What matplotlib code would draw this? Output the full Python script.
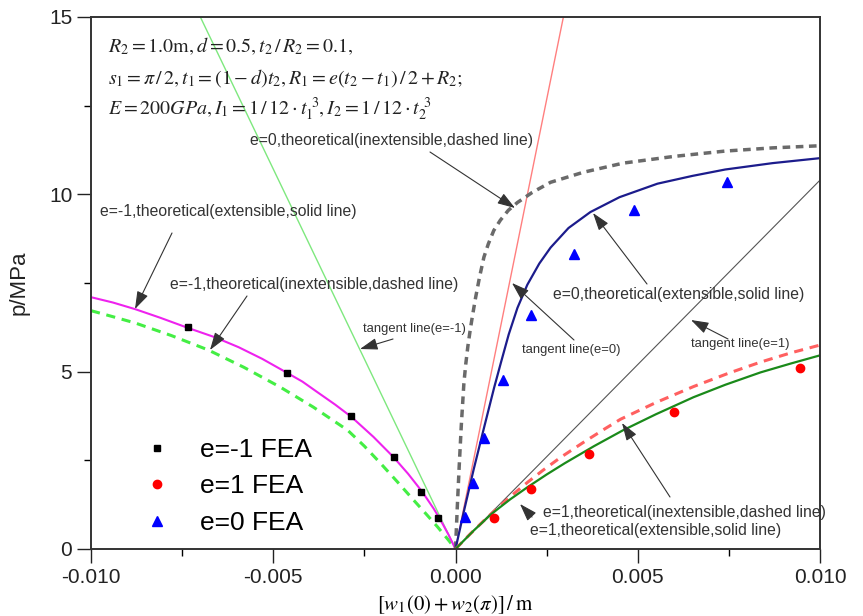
import matplotlib
matplotlib.use("Agg")
import matplotlib.pyplot as plt
from matplotlib.ticker import MultipleLocator, FormatStrFormatter

plt.rcParams['font.family'] = ['Liberation Sans', 'DejaVu Sans']
plt.rcParams['mathtext.fontset'] = 'stix'

# ---------------- data ----------------
# FEA points
x_fea_m1 = [-0.00733, -0.00461, -0.00288, -0.00170, -0.00096, -0.00047]
p_fea_m1 = [6.25, 4.96, 3.74, 2.60, 1.62, 0.87]

x_fea_p1 = [0.00105, 0.00208, 0.00366, 0.00600, 0.00945]
p_fea_p1 = [0.88, 1.68, 2.67, 3.85, 5.10]

x_fea_0 = [0.00025, 0.00047, 0.00079, 0.00129, 0.00206, 0.00324, 0.00491, 0.00746]
p_fea_0 = [0.90, 1.86, 3.14, 4.76, 6.59, 8.31, 9.55, 10.34]

# theoretical curves
x_m1_ext = [-0.0100, -0.0094, -0.00878, -0.0081, -0.00733, -0.0066, -0.00595, -0.0053,
            -0.00466, -0.0042, -0.0038, -0.0033, -0.00285, -0.00225, -0.0017, -0.0013,
            -0.00091, -0.0006, -0.00044, -0.0002, 0.0]
p_m1_ext = [7.10, 6.95, 6.76, 6.52, 6.23, 5.97, 5.69, 5.36,
            4.99, 4.72, 4.43, 4.07, 3.72, 3.16, 2.59, 2.12,
            1.61, 1.14, 0.87, 0.42, 0.0]

x_m1_inext = [-0.0100, -0.0094, -0.00878, -0.0078, -0.00678, -0.0058, -0.0048, -0.0039,
              -0.00296, -0.0025, -0.00206, -0.0016, -0.00115, -0.0008, -0.00049, -0.0002, 0.0]
p_m1_inext = [6.72, 6.55, 6.37, 6.02, 5.61, 5.12, 4.56, 4.00,
              3.35, 2.90, 2.42, 1.90, 1.38, 0.98, 0.62, 0.26, 0.0]

x_0_ext = [0.0, 0.00025, 0.00050, 0.00079, 0.00106, 0.00125, 0.00146, 0.0017, 0.00197,
           0.0023, 0.00261, 0.0031, 0.0037, 0.0045, 0.00554, 0.0065, 0.0074, 0.0087, 0.0100]
p_0_ext = [0.0, 1.15, 2.25, 3.45, 4.55, 5.27, 6.05, 6.80, 7.45,
           8.05, 8.50, 9.05, 9.50, 9.92, 10.30, 10.52, 10.70, 10.88, 11.02]

x_0_inext = [0.0, 0.00005, 0.00010, 0.00016, 0.00023, 0.00028, 0.00034, 0.00040, 0.00046,
             0.00055, 0.00066, 0.00078, 0.00090, 0.00105, 0.00123, 0.00145, 0.00170,
             0.0021, 0.00261, 0.0035, 0.0046, 0.0060, 0.0074, 0.0087, 0.0100]
p_0_inext = [0.0, 1.2, 2.3, 3.5, 4.67, 5.2, 5.72, 6.15, 6.54,
             7.08, 7.67, 8.23, 8.60, 8.98, 9.27, 9.55, 9.77,
             10.05, 10.34, 10.62, 10.88, 11.07, 11.22, 11.31, 11.37]

x_p1_ext = [0.0, 0.0005, 0.0010, 0.0015, 0.0020, 0.0025, 0.0030, 0.0038, 0.0046,
            0.0055, 0.00653, 0.0074, 0.00837, 0.0092, 0.0100]
p_p1_ext = [0.0, 0.52, 1.00, 1.40, 1.76, 2.10, 2.42, 2.90, 3.35,
            3.80, 4.28, 4.63, 4.98, 5.23, 5.46]

x_p1_inext = [0.0, 0.0004, 0.0008, 0.0012, 0.0016, 0.0020, 0.0024, 0.00288, 0.0035,
              0.0041, 0.00453, 0.0055, 0.00653, 0.0075, 0.00837, 0.0092, 0.0100]
p_p1_inext = [0.0, 0.42, 0.82, 1.20, 1.56, 1.90, 2.22, 2.58, 3.00,
              3.39, 3.66, 4.13, 4.58, 4.96, 5.27, 5.53, 5.75]

# tangent lines (end points)
x_tan_m1 = [0.0, -0.0070]
p_tan_m1 = [0.0, 15.0]
x_tan_0 = [0.0, 0.00296]
p_tan_0 = [0.0, 15.0]
x_tan_p1 = [0.0, 0.0100]
p_tan_p1 = [0.0, 10.4]

# ---------------- figure ----------------
W, H = 863, 616
fig = plt.figure(figsize=(W / 100, H / 100), dpi=100)
ax = fig.add_axes([91 / W, 1 - 549 / H, (820 - 91) / W, (549 - 17) / H])

# tangent lines
ax.plot(x_tan_m1, p_tan_m1, color='#7ee87e', lw=1.0)
ax.plot(x_tan_0, p_tan_0, color='#ff7f7f', lw=1.0)
ax.plot(x_tan_p1, p_tan_p1, color='#555555', lw=0.8)

# theory curves
ax.plot(x_m1_inext, p_m1_inext, color='#44ee44', lw=2.2, ls=(0, (3, 2.2)))
ax.plot(x_m1_ext, p_m1_ext, color='#ee22ee', lw=1.5)
ax.plot(x_0_inext, p_0_inext, color='#6a6a6a', lw=2.5, ls=(0, (2.2, 1.6)))
ax.plot(x_0_ext, p_0_ext, color='#1c1c8c', lw=1.6)
ax.plot(x_p1_inext, p_p1_inext, color='#ff6060', lw=2.2, ls=(0, (3, 2.2)))
ax.plot(x_p1_ext, p_p1_ext, color='#1a8a1a', lw=1.6)

# FEA points
ax.plot(x_fea_m1, p_fea_m1, 's', color='black', ms=5, label='e=-1 FEA', zorder=5)
ax.plot(x_fea_p1, p_fea_p1, 'o', color='red', ms=6, mec='red', label='e=1 FEA', zorder=5)
ax.plot(x_fea_0, p_fea_0, '^', color='blue', ms=7, label='e=0 FEA', zorder=5)

ax.set_xlim(-0.010, 0.010)
ax.set_ylim(0, 15)
ax.xaxis.set_major_locator(MultipleLocator(0.005))
ax.xaxis.set_minor_locator(MultipleLocator(0.0025))
ax.yaxis.set_major_locator(MultipleLocator(5))
ax.yaxis.set_minor_locator(MultipleLocator(2.5))
ax.xaxis.set_major_formatter(FormatStrFormatter('%.3f'))
ax.yaxis.set_major_formatter(FormatStrFormatter('%d'))
ax.tick_params(which='major', direction='out', length=10, width=1.0,
               labelsize=15, colors='#222222', top=False, right=False)
ax.tick_params(which='minor', direction='out', length=5, width=1.0,
               top=False, right=False)
for s in ax.spines.values():
    s.set_color('#333333')
    s.set_linewidth(1.4)

ax.set_ylabel('p/MPa', fontsize=16, color='#222222', labelpad=14)
ax.set_xlabel(r'$[w_1(0)+w_2(\pi)]\,/\,\mathrm{m}$', fontsize=15, labelpad=5)

leg = ax.legend(loc='lower left', bbox_to_anchor=(0.044, -0.018), frameon=False,
                fontsize=19, handlelength=0.8, handletextpad=1.2,
                labelspacing=0.47, markerscale=1.0)

# parameter text block
for ty, s in [(46, r'$R_2=1.0\mathrm{m},d=0.5,t_2\,/\,R_2=0.1,$'),
              (78, r'$s_1=\pi\,/\,2,t_1=(1-d)t_2,R_1=e(t_2-t_1)\,/\,2+R_2;$'),
              (109, r'$E=200GPa,I_1=1\,/\,12\cdot t_1^{\ 3},I_2=1\,/\,12\cdot t_2^{\ 3}$')]:
    fig.text(108 / W, 1 - ty / H, s, fontsize=14.4, color='#222222',
             ha='left', va='center')

# annotations (text left x, text y, arrow tail, arrow head) in pixels
annots = [
    ('e=0,theoretical(inextensible,dashed line)', 250, 140, (430, 152), (515, 208), 11.3),
    ('e=-1,theoretical(extensible,solid line)', 100, 212, (172, 233), (135, 309), 11.3),
    ('e=-1,theoretical(inextensible,dashed line)', 170, 284, (247, 296), (210, 350), 11.3),
    ('tangent line(e=-1)', 363, 329, (393, 339), (360, 349), 9.4),
    ('e=0,theoretical(extensible,solid line)', 553, 294, (647, 284), (593, 213), 11.3),
    ('tangent line(e=0)', 522, 350, (574, 340), (512, 283), 9.4),
    ('tangent line(e=1)', 691, 344, (728, 339), (691, 320), 9.4),
    ('e=1,theoretical(inextensible,dashed line)', 543, 512, (670, 497), (622, 423), 11.3),
    ('e=1,theoretical(extensible,solid line)', 530, 531, (532, 517), (520, 504), 11.3),
]
for text, tx, ty, tail, head, fs in annots:
    fig.text(tx / W, 1 - ty / H, text, fontsize=fs, color='#333333',
             ha='left', va='center')
    ax.annotate('', xy=(head[0], H - head[1]), xycoords='figure pixels',
                xytext=(tail[0], H - tail[1]), textcoords='figure pixels',
                arrowprops=dict(arrowstyle='-|>,head_length=0.9,head_width=0.3',
                                color='#333333', lw=0.8, mutation_scale=12,
                                shrinkA=0, shrinkB=0),
                annotation_clip=False)

fig.savefig('out.png', dpi=100)
